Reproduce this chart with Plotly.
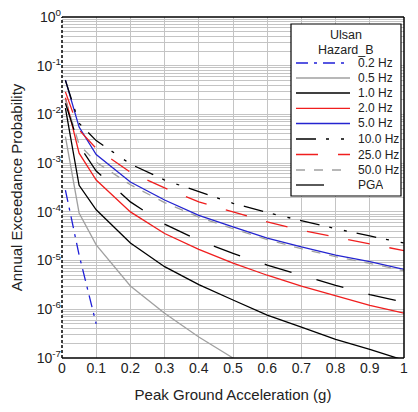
import plotly.graph_objects as go

pga = [0.01, 0.05, 0.1, 0.2, 0.3, 0.4, 0.5, 0.6, 0.7, 0.8, 0.9, 1.0]

hz_0_2 = [2.8e-4, 1.3e-5, 5.0e-7, None, None, None, None, None, None, None, None, None]
hz_0_5 = [3.5e-3, 9.5e-5, 2.1e-5, 3.0e-6, 8.3e-7, 2.7e-7, 1.0e-7, None, None, None, None, None]
hz_1_0 = [1.35e-2, 3.5e-4, 1.1e-4, 2.3e-5, 7.5e-6, 3.2e-6, 1.55e-6, 7.6e-7, 4.3e-7, 2.4e-7, 1.5e-7, 9.0e-8]
hz_2_0 = [2.2e-2, 1.6e-3, 4.5e-4, 1.0e-4, 3.6e-5, 1.7e-5, 8.9e-6, 5.0e-6, 3.0e-6, 1.9e-6, 1.2e-6, 8.3e-7]
hz_5_0 = [5.1e-2, 5.5e-3, 1.5e-3, 4.1e-4, 1.75e-4, 8.5e-5, 4.9e-5, 2.9e-5, 1.9e-5, 1.3e-5, 9.5e-6, 6.6e-6]
hz_10_0 = [5.0e-2, 6.6e-3, 2.9e-3, 9.6e-4, 4.5e-4, 2.6e-4, 1.5e-4, 9.7e-5, 6.5e-5, 4.5e-5, 3.2e-5, 2.3e-5]
hz_25_0 = [2.9e-2, 4.8e-3, 2.0e-3, 6.5e-4, 3.1e-4, 1.6e-4, 1.0e-4, 6.2e-5, 4.2e-5, 3.0e-5, 2.2e-5, 1.6e-5]
hz_50_0 = [2.0e-2, 2.4e-3, 1.05e-3, 3.6e-4, 1.55e-4, 7.8e-5, 4.5e-5, 2.7e-5, 1.75e-5, 1.2e-5, 8.8e-6, 6.2e-6]
pga_curve = [1.7e-2, 2.3e-3, 6.9e-4, 1.6e-4, 5.6e-5, 2.6e-5, 1.4e-5, 8.1e-6, 5.0e-6, 3.1e-6, 2.0e-6, 1.4e-6]

names = ["0.2 Hz", "0.5 Hz", "1.0 Hz", "2.0 Hz", "5.0 Hz", "10.0 Hz", "25.0 Hz", "50.0 Hz", "PGA"]
series = [hz_0_2, hz_0_5, hz_1_0, hz_2_0, hz_5_0, hz_10_0, hz_25_0, hz_50_0, pga_curve]
colors = ["#1f1fd8", "#a0a0a0", "#000000", "#f01e1e", "#2424d0", "#000000", "#f01e1e", "#a0a0a0", "#000000"]
dashes = ["12px,6px,3px,6px", "solid", "solid", "solid", "solid",
          "20px,10px,3px,12px,3px,10px", "22px,20px", "9px,9px", "28px,26px"]
legend_title = ["Ulsan", "Hazard_B"]

y_tickvals = [1e-7, 1e-6, 1e-5, 1e-4, 1e-3, 1e-2, 1e-1, 1]
y_ticktext = ["10<sup>-7</sup>", "10<sup>-6</sup>", "10<sup>-5</sup>", "10<sup>-4</sup>",
              "10<sup>-3</sup>", "10<sup>-2</sup>", "10<sup>-1</sup>", "10<sup>0</sup>"]
x_tickvals = [0, 0.1, 0.2, 0.3, 0.4, 0.5, 0.6, 0.7, 0.8, 0.9, 1]
x_ticktext = ["0", "0.1", "0.2", "0.3", "0.4", "0.5", "0.6", "0.7", "0.8", "0.9", "1"]

FONT = "Arial, Liberation Sans, sans-serif"
OFF = 8  # default page body margin
W, H = 410, 404
ML, MR, MT, MB = 54, 14, 9, 54
PW, PH = W - ML - MR, H - MT - MB


def px2paper(px, py):
    # page pixel coordinates -> paper coordinates
    fx, fy = px - OFF, py - OFF
    return (fx - ML) / PW, (H - MB - fy) / PH


fig = go.Figure()
for name, ys, c, d in zip(names, series, colors, dashes):
    fig.add_trace(go.Scatter(x=pga, y=ys, name=name, mode="lines",
                             line=dict(color=c, dash=d, width=1.3),
                             connectgaps=False, showlegend=False))

grid = "#c4c4c4"
fig.update_layout(
    width=W, height=H,
    margin=dict(l=ML, r=MR, t=MT, b=MB),
    paper_bgcolor="white", plot_bgcolor="white",
    font=dict(family=FONT, size=14, color="#222"),
    showlegend=False,
    xaxis=dict(range=[0, 1], tickvals=x_tickvals, ticktext=x_ticktext,
               showgrid=True, gridcolor=grid, gridwidth=1, zeroline=False,
               showline=False, ticks="", automargin=False, ticklabeloverflow="allow",
               tickfont=dict(size=14),
               title=dict(text="Peak Ground Acceleration (g)", font=dict(size=15), standoff=14)),
    yaxis=dict(type="log", range=[-7, 0], tickvals=y_tickvals, ticktext=y_ticktext,
               showgrid=True, gridcolor=grid, gridwidth=1, zeroline=False,
               showline=False, ticks="", automargin=False, ticklabeloverflow="allow",
               tickfont=dict(size=14),
               minor=dict(showgrid=True, gridcolor=grid, gridwidth=1, dtick="D1"),
               title=dict(text="Annual Exceedance Probability", font=dict(size=15), standoff=12)),
)

# plot frame
frame = dict(type="line", xref="paper", yref="paper", layer="above")
fig.add_shape(**frame, x0=0, x1=1, y0=1, y1=1, line=dict(color="black", width=1.5))
fig.add_shape(**frame, x0=0, x1=1, y0=0, y1=0, line=dict(color="black", width=1.5))
fig.add_shape(**frame, x0=1, x1=1, y0=0, y1=1, line=dict(color="black", width=1.5))
fig.add_shape(**frame, x0=0, x1=0, y0=0, y1=1, line=dict(color="black", width=1.5, dash="3px,2px"))

# legend box (drawn manually to match the compact spacing)
bx0, by0 = px2paper(291, 196)
bx1, by1 = px2paper(401, 24)
fig.add_shape(type="rect", xref="paper", yref="paper", x0=bx0, x1=bx1, y0=by0, y1=by1,
              line=dict(color="black", width=1.2), fillcolor="white", layer="above")
for txt, py in zip(legend_title, [35.5, 49.5]):
    tx, ty = px2paper(346, py)
    fig.add_annotation(xref="paper", yref="paper", x=tx, y=ty, text=txt, showarrow=False,
                       font=dict(size=12.5, color="#222"), xanchor="center", yanchor="middle",
                       height=14)
entry_y = [63.0, 78.0, 93.0, 108.3, 123.5, 139.0, 154.5, 170.0, 185.0]
for i, (name, c, d) in enumerate(zip(names, colors, dashes)):
    py = entry_y[i]
    x_end = 325 if name == "PGA" else 350
    lx0, ly = px2paper(296, py)
    lx1, _ = px2paper(x_end, py)
    fig.add_shape(type="line", xref="paper", yref="paper", x0=lx0, x1=lx1, y0=ly, y1=ly,
                  line=dict(color=c, dash=d, width=1.3), layer="above")
    ax, _ = px2paper(356, py)
    fig.add_annotation(xref="paper", yref="paper", x=ax, y=ly, text=name, showarrow=False,
                       font=dict(size=12, color="#222"), xanchor="left", yanchor="middle",
                       height=14)

fig.write_html("out.html")
